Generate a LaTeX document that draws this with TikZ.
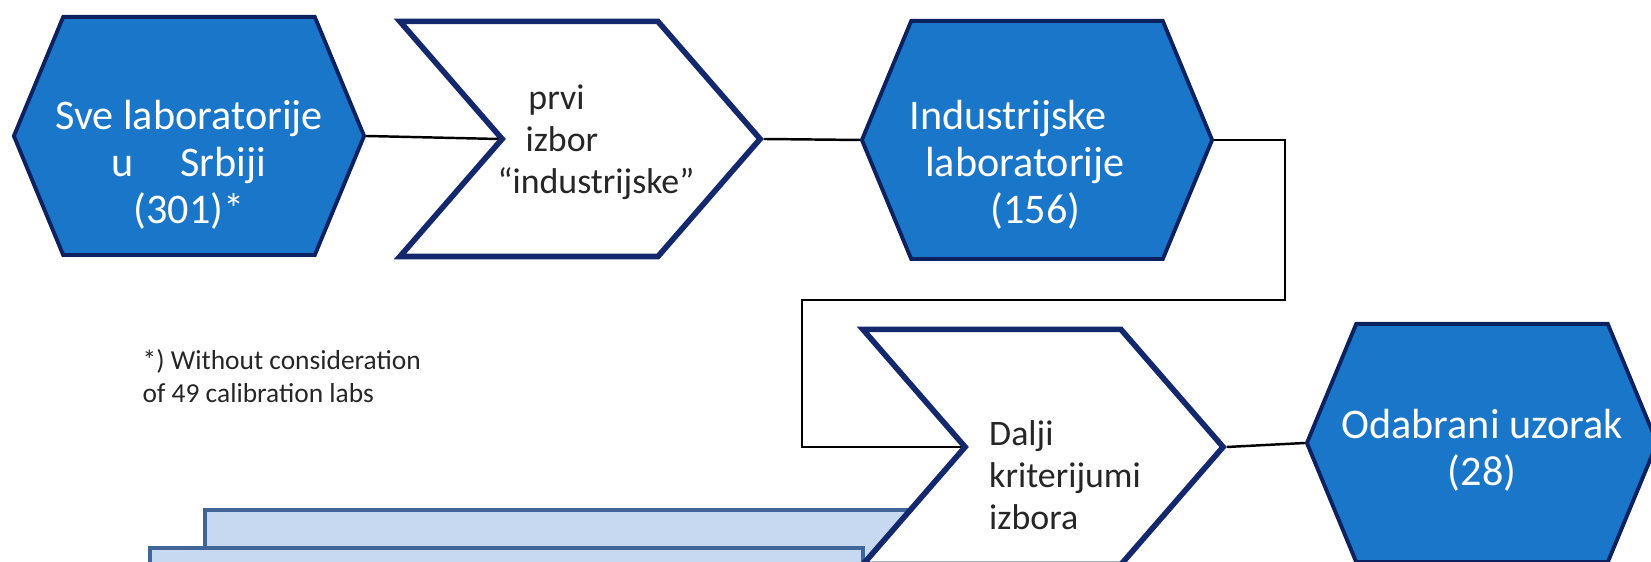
\documentclass[tikz,border=0pt]{standalone}
\usepackage{fontspec}
\setmainfont{Carlito}
\usetikzlibrary{shapes.symbols}

\definecolor{hexblue}{RGB}{26,118,200}
\definecolor{hexedge}{RGB}{12,34,96}
\definecolor{chevedge}{RGB}{20,40,110}
\definecolor{slabfill}{RGB}{198,217,240}
\definecolor{slabedge}{RGB}{64,102,152}
\definecolor{txtgray}{RGB}{38,38,38}

\tikzset{
  hexbox/.style={signal, signal to=east and west, signal pointer angle=135, draw=hexedge, line width=1.1pt, fill=hexblue, minimum width=3.5cm, minimum height=2.38cm, inner sep=0pt},
  chevbox/.style={signal, signal from=west, signal to=east, signal pointer angle=98, draw=chevedge, line width=1.6pt, fill=white, minimum width=3.6cm, minimum height=2.35cm, inner sep=0pt},
  hextext/.style={text=white, align=center, inner sep=0pt, font=\fontsize{12}{13.4}\selectfont},
  chevtext/.style={text=txtgray, align=left, inner sep=0pt, font=\fontsize{10.2}{12}\selectfont},
  link/.style={line width=0.7pt},
  slab/.style={fill=slabfill, draw=slabedge, line width=1.1pt}
}

\begin{document}
\begin{tikzpicture}[x=0.01cm,y=-0.01cm]
        \useasboundingbox (0,0) rectangle (1651,562);
        \draw[slab] (205,510) rectangle (940,620);
        \draw[slab] (150,548) rectangle (863,620);
        \node[hexbox] (hexA) at (189,136) {};
        \node[chevbox] (chevA) at (580,139) {};
        \node[hexbox] (hexB) at (1037,140) {};
        \node[chevbox] (chevB) at (1043,447) {};
        \node[hexbox] (hexC) at (1482,443) {};
        \node[hextext] (hexAtext) at (189,165) {Sve laboratorije\\u\hspace{1.1em}Srbiji\\(301)*};
        \node[hextext] (hexBtext) at (1025,165) {Industrijske\hspace*{0.8em}\\laboratorije\\\hspace*{0.5em}(156)};
        \node[hextext] (hexCtext) at (1482,450) {Odabrani uzorak\\(28)};
        \node[chevtext] (chevAtext) at (596,142) {\hspace*{0.86em}prvi\\\hspace*{0.78em}izbor\\“industrijske”};
        \node[chevtext] (chevBtext) at (1065,475) {Dalji\\kriterijumi\\izbora};
        \node[text=txtgray, align=left, anchor=west, inner sep=0pt, font=\fontsize{7.8}{9.2}\selectfont] (note) at (142,376) {*) Without consideration\\of 49 calibration labs};
        \coordinate (bendR) at (1285,300);
        \coordinate (bendL) at (802,300);
        \draw[link] (hexA.east) -- (chevA.west);
        \draw[link] (chevA.east) -- (hexB.west);
        \draw[link] (hexB.east) -| (bendR) -- (bendL) |- (chevB.west);
        \draw[link] (chevB.east) -- (hexC.west);
\end{tikzpicture}
\end{document}
